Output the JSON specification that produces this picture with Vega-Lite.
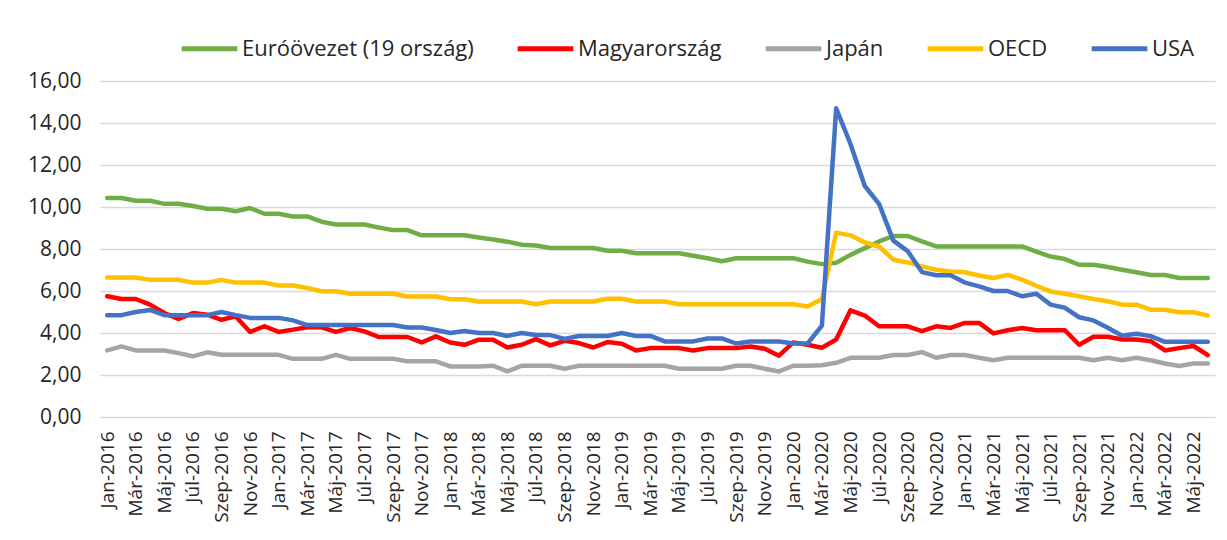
{
  "$schema": "https://vega.github.io/schema/vega-lite/v6.json",
  "autosize": "none",
  "width": 1115,
  "height": 336,
  "padding": {"left": 100, "top": 81, "right": 12, "bottom": 123},
  "background": "white",
  "config": {
    "view": {"stroke": null},
    "font": "Open Sans",
    "axis": {"labelFont": "Open Sans", "labelColor": "#262626"},
    "legend": {"labelFont": "Open Sans", "labelColor": "#262626"}
  },
  "data": {
    "values": [
      {"m":"Jan-2016","eu":10.43,"hu":5.75,"jp":3.17,"oecd":6.64,"us":4.85},
      {"m":"Feb-2016","eu":10.43,"hu":5.62,"jp":3.36,"oecd":6.64,"us":4.85},
      {"m":"Már-2016","eu":10.3,"hu":5.62,"jp":3.17,"oecd":6.64,"us":5.0},
      {"m":"Ápr-2016","eu":10.3,"hu":5.35,"jp":3.17,"oecd":6.53,"us":5.1},
      {"m":"Máj-2016","eu":10.15,"hu":4.95,"jp":3.17,"oecd":6.53,"us":4.85},
      {"m":"Jún-2016","eu":10.15,"hu":4.67,"jp":3.04,"oecd":6.53,"us":4.85},
      {"m":"Júl-2016","eu":10.05,"hu":4.95,"jp":2.89,"oecd":6.4,"us":4.85},
      {"m":"Aug-2016","eu":9.92,"hu":4.87,"jp":3.08,"oecd":6.4,"us":4.85},
      {"m":"Szep-2016","eu":9.92,"hu":4.63,"jp":2.96,"oecd":6.53,"us":5.0},
      {"m":"Okt-2016","eu":9.8,"hu":4.79,"jp":2.96,"oecd":6.4,"us":4.85},
      {"m":"Nov-2016","eu":9.95,"hu":4.05,"jp":2.96,"oecd":6.4,"us":4.72},
      {"m":"Dec-2016","eu":9.68,"hu":4.32,"jp":2.96,"oecd":6.4,"us":4.72},
      {"m":"Jan-2017","eu":9.68,"hu":4.05,"jp":2.96,"oecd":6.26,"us":4.72},
      {"m":"Feb-2017","eu":9.55,"hu":4.16,"jp":2.77,"oecd":6.26,"us":4.6},
      {"m":"Már-2017","eu":9.55,"hu":4.27,"jp":2.77,"oecd":6.14,"us":4.38},
      {"m":"Ápr-2017","eu":9.3,"hu":4.27,"jp":2.77,"oecd":5.99,"us":4.38},
      {"m":"Máj-2017","eu":9.17,"hu":4.05,"jp":2.96,"oecd":5.99,"us":4.38},
      {"m":"Jún-2017","eu":9.17,"hu":4.24,"jp":2.77,"oecd":5.87,"us":4.38},
      {"m":"Júl-2017","eu":9.17,"hu":4.08,"jp":2.77,"oecd":5.87,"us":4.38},
      {"m":"Aug-2017","eu":9.02,"hu":3.81,"jp":2.77,"oecd":5.87,"us":4.38},
      {"m":"Szep-2017","eu":8.9,"hu":3.81,"jp":2.77,"oecd":5.87,"us":4.38},
      {"m":"Okt-2017","eu":8.9,"hu":3.81,"jp":2.65,"oecd":5.74,"us":4.26},
      {"m":"Nov-2017","eu":8.65,"hu":3.55,"jp":2.65,"oecd":5.74,"us":4.26},
      {"m":"Dec-2017","eu":8.65,"hu":3.84,"jp":2.65,"oecd":5.74,"us":4.14},
      {"m":"Jan-2018","eu":8.65,"hu":3.55,"jp":2.41,"oecd":5.61,"us":4.0},
      {"m":"Feb-2018","eu":8.65,"hu":3.44,"jp":2.41,"oecd":5.61,"us":4.1},
      {"m":"Már-2018","eu":8.55,"hu":3.68,"jp":2.41,"oecd":5.5,"us":4.0},
      {"m":"Ápr-2018","eu":8.45,"hu":3.68,"jp":2.44,"oecd":5.5,"us":4.0},
      {"m":"Máj-2018","eu":8.35,"hu":3.31,"jp":2.17,"oecd":5.5,"us":3.86},
      {"m":"Jún-2018","eu":8.2,"hu":3.44,"jp":2.44,"oecd":5.5,"us":4.0},
      {"m":"Júl-2018","eu":8.17,"hu":3.71,"jp":2.44,"oecd":5.37,"us":3.9},
      {"m":"Aug-2018","eu":8.05,"hu":3.41,"jp":2.44,"oecd":5.5,"us":3.9},
      {"m":"Szep-2018","eu":8.05,"hu":3.63,"jp":2.3,"oecd":5.5,"us":3.72},
      {"m":"Okt-2018","eu":8.05,"hu":3.52,"jp":2.44,"oecd":5.5,"us":3.86},
      {"m":"Nov-2018","eu":8.05,"hu":3.31,"jp":2.44,"oecd":5.5,"us":3.86},
      {"m":"Dec-2018","eu":7.92,"hu":3.57,"jp":2.44,"oecd":5.63,"us":3.86},
      {"m":"Jan-2019","eu":7.92,"hu":3.49,"jp":2.44,"oecd":5.63,"us":4.0},
      {"m":"Feb-2019","eu":7.8,"hu":3.17,"jp":2.44,"oecd":5.5,"us":3.86},
      {"m":"Már-2019","eu":7.8,"hu":3.28,"jp":2.44,"oecd":5.5,"us":3.86},
      {"m":"Ápr-2019","eu":7.8,"hu":3.28,"jp":2.44,"oecd":5.5,"us":3.6},
      {"m":"Máj-2019","eu":7.8,"hu":3.28,"jp":2.3,"oecd":5.37,"us":3.6},
      {"m":"Jún-2019","eu":7.68,"hu":3.17,"jp":2.3,"oecd":5.37,"us":3.6},
      {"m":"Júl-2019","eu":7.56,"hu":3.28,"jp":2.3,"oecd":5.37,"us":3.74},
      {"m":"Aug-2019","eu":7.42,"hu":3.28,"jp":2.3,"oecd":5.37,"us":3.74},
      {"m":"Szep-2019","eu":7.56,"hu":3.28,"jp":2.44,"oecd":5.37,"us":3.5},
      {"m":"Okt-2019","eu":7.56,"hu":3.36,"jp":2.44,"oecd":5.37,"us":3.6},
      {"m":"Nov-2019","eu":7.56,"hu":3.25,"jp":2.3,"oecd":5.37,"us":3.6},
      {"m":"Dec-2019","eu":7.56,"hu":2.92,"jp":2.17,"oecd":5.37,"us":3.6},
      {"m":"Jan-2020","eu":7.56,"hu":3.55,"jp":2.44,"oecd":5.37,"us":3.5},
      {"m":"Feb-2020","eu":7.4,"hu":3.44,"jp":2.44,"oecd":5.26,"us":3.5},
      {"m":"Már-2020","eu":7.28,"hu":3.3,"jp":2.46,"oecd":5.62,"us":4.35},
      {"m":"Ápr-2020","eu":7.35,"hu":3.69,"jp":2.58,"oecd":8.78,"us":14.7},
      {"m":"Máj-2020","eu":7.72,"hu":5.08,"jp":2.82,"oecd":8.65,"us":13.0},
      {"m":"Jún-2020","eu":8.04,"hu":4.83,"jp":2.82,"oecd":8.31,"us":11.0},
      {"m":"Júl-2020","eu":8.36,"hu":4.32,"jp":2.82,"oecd":8.12,"us":10.15},
      {"m":"Aug-2020","eu":8.62,"hu":4.32,"jp":2.95,"oecd":7.49,"us":8.4},
      {"m":"Szep-2020","eu":8.62,"hu":4.32,"jp":2.95,"oecd":7.36,"us":7.9},
      {"m":"Okt-2020","eu":8.36,"hu":4.09,"jp":3.09,"oecd":7.17,"us":6.9},
      {"m":"Nov-2020","eu":8.12,"hu":4.32,"jp":2.82,"oecd":7.01,"us":6.75},
      {"m":"Dec-2020","eu":8.12,"hu":4.24,"jp":2.95,"oecd":6.93,"us":6.75},
      {"m":"Jan-2021","eu":8.12,"hu":4.48,"jp":2.95,"oecd":6.89,"us":6.4},
      {"m":"Feb-2021","eu":8.12,"hu":4.48,"jp":2.82,"oecd":6.74,"us":6.22},
      {"m":"Már-2021","eu":8.12,"hu":3.98,"jp":2.7,"oecd":6.62,"us":6.0},
      {"m":"Ápr-2021","eu":8.12,"hu":4.13,"jp":2.82,"oecd":6.77,"us":6.0},
      {"m":"Máj-2021","eu":8.12,"hu":4.24,"jp":2.82,"oecd":6.54,"us":5.75},
      {"m":"Jún-2021","eu":7.88,"hu":4.13,"jp":2.82,"oecd":6.25,"us":5.87},
      {"m":"Júl-2021","eu":7.64,"hu":4.13,"jp":2.82,"oecd":5.98,"us":5.35},
      {"m":"Aug-2021","eu":7.52,"hu":4.13,"jp":2.82,"oecd":5.87,"us":5.2},
      {"m":"Szep-2021","eu":7.25,"hu":3.44,"jp":2.82,"oecd":5.75,"us":4.75},
      {"m":"Okt-2021","eu":7.25,"hu":3.82,"jp":2.7,"oecd":5.62,"us":4.6},
      {"m":"Nov-2021","eu":7.14,"hu":3.82,"jp":2.82,"oecd":5.51,"us":4.25},
      {"m":"Dec-2021","eu":7.01,"hu":3.69,"jp":2.7,"oecd":5.35,"us":3.87},
      {"m":"Jan-2022","eu":6.89,"hu":3.69,"jp":2.82,"oecd":5.35,"us":3.96},
      {"m":"Feb-2022","eu":6.76,"hu":3.61,"jp":2.7,"oecd":5.11,"us":3.85},
      {"m":"Már-2022","eu":6.76,"hu":3.17,"jp":2.55,"oecd":5.11,"us":3.58},
      {"m":"Ápr-2022","eu":6.62,"hu":3.28,"jp":2.43,"oecd":4.99,"us":3.58},
      {"m":"Máj-2022","eu":6.62,"hu":3.38,"jp":2.55,"oecd":4.99,"us":3.58},
      {"m":"Jún-2022","eu":6.62,"hu":2.95,"jp":2.55,"oecd":4.83,"us":3.58}
    ]
  },
  "transform": [{"fold": ["eu", "hu", "jp", "oecd", "us"], "as": ["s", "v"]}],
  "mark": {"type": "line", "strokeWidth": 4.5, "strokeCap": "round", "strokeJoin": "round"},
  "encoding": {
    "x": {
      "field": "m",
      "type": "ordinal",
      "sort": null,
      "scale": {"type": "point", "padding": 0.5},
      "axis": {
        "title": null,
        "domain": false,
        "ticks": false,
        "grid": false,
        "labelAngle": -90,
        "labelFontSize": 19,
        "labelPadding": 14,
        "labelOverlap": false,
        "labelExpr": "test(/^(Jan|Már|Máj|Júl|Szep|Nov)-/, datum.value) ? datum.value : ''"
      }
    },
    "y": {
      "field": "v",
      "type": "quantitative",
      "scale": {"domain": [0, 16], "nice": false, "zero": true},
      "axis": {
        "title": null,
        "values": [0, 2, 4, 6, 8, 10, 12, 14, 16],
        "domain": false,
        "ticks": false,
        "grid": true,
        "gridColor": "#d9d9d9",
        "gridWidth": 1.5,
        "labelFontSize": 21,
        "labelPadding": 19,
        "labelExpr": "replace(format(datum.value, '.2f'), '.', ',')"
      }
    },
    "color": {
      "field": "s",
      "type": "nominal",
      "sort": null,
      "scale": {
        "domain": ["eu", "hu", "jp", "oecd", "us"],
        "range": ["#70ad47", "#ff0000", "#a5a5a5", "#ffc000", "#4472c4"]
      },
      "legend": {
        "title": null,
        "orient": "none",
        "legendX": 79,
        "legendY": -63,
        "direction": "horizontal",
        "symbolType": "stroke",
        "symbolSize": 3100,
        "symbolStrokeWidth": 5,
        "labelFontSize": 22,
        "labelOffset": 2,
        "columnPadding": 33,
        "labelLimit": 400,
        "labelExpr": "datum.value == 'eu' ? 'Euróövezet (19 ország)' : datum.value == 'hu' ? 'Magyarország' : datum.value == 'jp' ? 'Japán' : datum.value == 'oecd' ? 'OECD' : 'USA'"
      }
    }
  }
}
